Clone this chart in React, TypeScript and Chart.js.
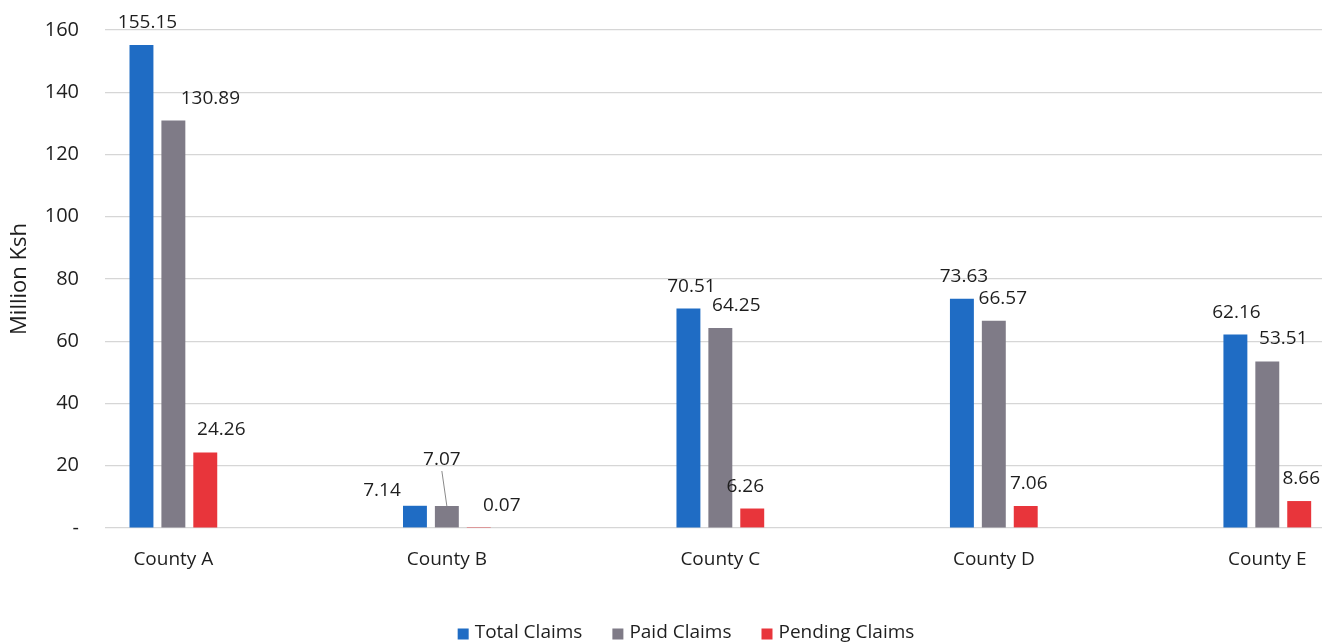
import React, { useEffect, useRef } from 'react';
import { Chart, registerables } from 'chart.js';

Chart.register(...registerables);

const categories = ['County A', 'County B', 'County C', 'County D', 'County E'];
const seriesNames = ['Total Claims', 'Paid Claims', 'Pending Claims'];
const totalClaims = [155.15, 7.14, 70.51, 73.63, 62.16];
const paidClaims = [130.89, 7.07, 64.25, 66.57, 53.51];
const pendingClaims = [24.26, 0.07, 6.26, 7.06, 8.66];
const yTickValues = [0, 20, 40, 60, 80, 100, 120, 140, 160];
const yAxisTitle = 'Million Ksh';

const colors = ['#1f6cc4', '#7f7b87', '#e8353b'];
const FONT = "'Open Sans', 'Noto Sans', sans-serif";
const TEXT = '#1e1e1e';

// label nudges (dx, dy) in px, per series per category
const labelNudges = [
  [[6, 0], [-33, 7], [3, 0], [2, 0], [1, 0]],
  [[37, 0], [-5, -24], [16, 0], [9, 0], [16, 0]],
  [[16, 0], [23, 0], [-7, 0], [3, 0], [2, 0]],
];

const valueLabels = {
  id: 'valueLabels',
  afterDatasetsDraw(chart: any) {
    const ctx = chart.ctx;
    ctx.save();
    ctx.font = `19px ${FONT}`;
    ctx.fillStyle = TEXT;
    ctx.textAlign = 'center';
    ctx.textBaseline = 'alphabetic';
    chart.data.datasets.forEach((ds: any, di: number) => {
      const meta = chart.getDatasetMeta(di);
      meta.data.forEach((el: any, i: number) => {
        const v = ds.data[i].y;
        const [dx, dy] = labelNudges[di][i];
        const tx = el.x + dx;
        const ty = el.y - 17 + dy;
        ctx.fillText(v.toFixed(2), tx, ty);
        if (dy < -10) {
          ctx.strokeStyle = '#8a8a8a';
          ctx.lineWidth = 1;
          ctx.beginPath();
          ctx.moveTo(tx, ty + 6);
          ctx.lineTo(el.x, el.y);
          ctx.stroke();
        }
      });
    });
    ctx.restore();
  },
};

// legend drawn at the bottom, centred under the plot like the original
const bottomLegend = {
  id: 'bottomLegend',
  afterDraw(chart: any) {
    const ctx = chart.ctx;
    ctx.save();
    ctx.font = `19px ${FONT}`;
    ctx.textBaseline = 'middle';
    ctx.textAlign = 'left';
    const box = 11;
    const gapText = 6;
    const gapItem = 30;
    const items = chart.data.datasets.map((ds: any) => ({
      text: ds.label,
      color: ds.backgroundColor,
      w: box + gapText + ctx.measureText(ds.label).width,
    }));
    const total = items.reduce((s: number, it: any) => s + it.w, 0) + gapItem * (items.length - 1);
    const cx = 686;
    const cy = 633;
    let x = cx - total / 2;
    items.forEach((it: any) => {
      ctx.fillStyle = it.color;
      ctx.fillRect(x, cy - box / 2 + 1, box, box);
      ctx.fillStyle = TEXT;
      ctx.fillText(it.text, x + box + gapText, cy);
      x += it.w + gapItem;
    });
    ctx.restore();
  },
};

export default function App() {
  const ref = useRef<HTMLCanvasElement>(null);
  useEffect(() => {
    document.body.style.margin = '0';
    const series = [totalClaims, paidClaims, pendingClaims];
    const chart = new Chart(ref.current as HTMLCanvasElement, {
      type: 'bar',
      data: {
        datasets: series.map((vals, si) => ({
          label: seriesNames[si],
          data: vals.map((v, i) => ({ x: i, y: v })),
          backgroundColor: colors[si],
          borderWidth: 0,
          barPercentage: 0.75,
          categoryPercentage: 0.35,
        })),
      },
      options: {
        responsive: false,
        animation: false,
        layout: { padding: { top: 30, right: 12, left: 0, bottom: 50 } },
        scales: {
          x: {
            type: 'linear',
            offset: false,
            min: -0.25,
            max: 4.2,
            afterBuildTicks: (axis: any) => {
              axis.ticks = categories.map((_, i) => ({ value: i }));
            },
            afterFit: (axis: any) => {
              axis.height = 644 - 50 - 528;
              axis.paddingLeft = 0;
              axis.paddingRight = 0;
            },
            ticks: {
              callback: (v: any) => categories[v] ?? '',
              font: { size: 19, family: FONT },
              color: TEXT,
              padding: 12,
              maxRotation: 0,
              autoSkip: false,
            },
            grid: { display: false },
            border: { display: false },
          },
          y: {
            min: 0,
            max: 160,
            afterBuildTicks: (axis: any) => {
              axis.ticks = yTickValues.map((v) => ({ value: v }));
            },
            afterFit: (axis: any) => {
              axis.width = 105;
              axis.paddingTop = 0;
              axis.paddingBottom = 0;
            },
            ticks: {
              callback: (v: any) => (v === 0 ? '-' : String(v)),
              font: { size: 20, family: FONT },
              color: TEXT,
              padding: 26,
            },
            grid: { color: '#d6d6d6', lineWidth: 1.2, drawTicks: false },
            border: { display: false },
            title: {
              display: true,
              text: yAxisTitle,
              font: { size: 22, family: FONT },
              color: TEXT,
              padding: { top: 7, bottom: 0 },
            },
          },
        },
        plugins: {
          legend: { display: false },
          tooltip: { enabled: false },
        },
      },
      plugins: [valueLabels, bottomLegend],
    } as any);
    return () => chart.destroy();
  }, []);
  return (
    <div style={{ width: 1334, height: 644 }}>
      <canvas ref={ref} width={1334} height={644} />
    </div>
  );
}
